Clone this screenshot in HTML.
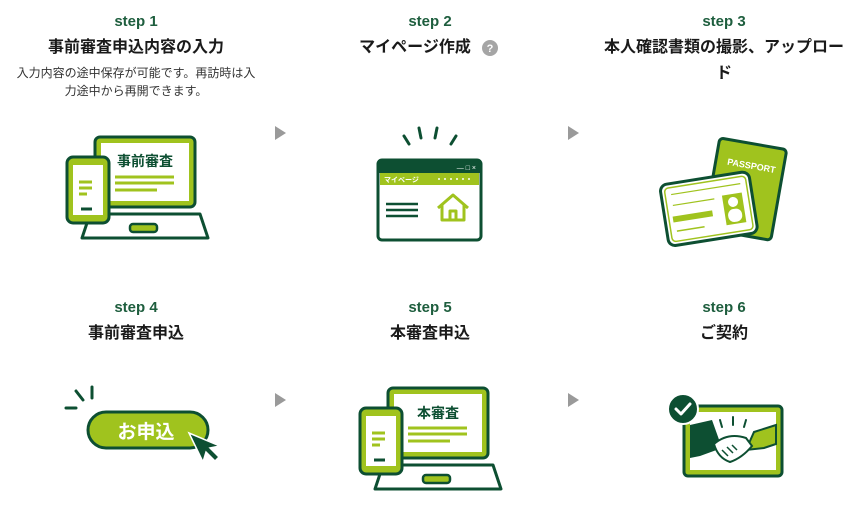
<!DOCTYPE html>
<html><head><meta charset="utf-8"><style>
html,body{margin:0;padding:0;background:#fff;width:858px;height:509px;overflow:hidden}
svg{display:block}
.st{font-family:"Liberation Sans",sans-serif;font-weight:bold;font-size:15px;fill:#1e5e3e}
.tt{font-family:"Liberation Sans","Noto Sans CJK JP",sans-serif;font-weight:bold;font-size:16px;fill:#1a1a1a}
.ds{font-family:"Liberation Sans","Noto Sans CJK JP",sans-serif;font-size:12px;fill:#333}
</style></head><body>
<svg width="858" height="509" viewBox="0 0 858 509" xmlns="http://www.w3.org/2000/svg">
<defs>
<g id="dev">
  <rect x="95" y="137" width="100" height="70" rx="5" fill="#a0c31e" stroke="#0d4f32" stroke-width="3"/>
  <rect x="101" y="143" width="88" height="58" fill="#fff"/>
  <line x1="115" y1="177" x2="174" y2="177" stroke="#a0c31e" stroke-width="3"/>
  <line x1="115" y1="183" x2="174" y2="183" stroke="#a0c31e" stroke-width="3"/>
  <line x1="115" y1="190" x2="157" y2="190" stroke="#a0c31e" stroke-width="3"/>
  <path d="M90 214 L200 214 L208 238 L82 238 Z" fill="#fff" stroke="#0d4f32" stroke-width="3" stroke-linejoin="round"/>
  <rect x="130" y="224" width="27" height="8" rx="3" fill="#a0c31e" stroke="#0d4f32" stroke-width="2.5"/>
  <rect x="67" y="157" width="42" height="66" rx="6" fill="#a0c31e" stroke="#0d4f32" stroke-width="3"/>
  <rect x="73" y="165" width="30" height="50" fill="#fff"/>
  <line x1="79" y1="182" x2="92" y2="182" stroke="#a0c31e" stroke-width="3"/>
  <line x1="79" y1="188" x2="92" y2="188" stroke="#a0c31e" stroke-width="3"/>
  <line x1="79" y1="194" x2="87" y2="194" stroke="#a0c31e" stroke-width="3"/>
  <line x1="81" y1="209" x2="92" y2="209" stroke="#0d4f32" stroke-width="3"/>
</g>
<polygon id="arr" points="0,0 11,7 0,14" fill="#9a9a9a"/>
</defs>

<text class="st" x="136" y="26" text-anchor="middle">step 1</text>
<text class="tt" x="136" y="52" text-anchor="middle">事前審査申込内容の入力</text>
<text class="ds" x="136" y="77" text-anchor="middle">入力内容の途中保存が可能です。再訪時は入</text>
<text class="ds" x="136" y="95" text-anchor="middle">力途中から再開できます。</text>

<text class="st" x="430" y="26" text-anchor="middle">step 2</text>
<text class="tt" x="415" y="52" text-anchor="middle">マイページ作成</text>
<circle cx="490" cy="48" r="8" fill="#a5a5a5"/>
<text x="490" y="52" text-anchor="middle" font-family="Liberation Sans,sans-serif" font-size="11" font-weight="bold" fill="#fff">?</text>

<text class="st" x="724" y="26" text-anchor="middle">step 3</text>
<text class="tt" x="724" y="52" text-anchor="middle">本人確認書類の撮影、アップロー</text>
<text class="tt" x="724" y="78" text-anchor="middle">ド</text>

<text class="st" x="136" y="312" text-anchor="middle">step 4</text>
<text class="tt" x="136" y="338" text-anchor="middle">事前審査申込</text>
<text class="st" x="430" y="312" text-anchor="middle">step 5</text>
<text class="tt" x="430" y="338" text-anchor="middle">本審査申込</text>
<text class="st" x="724" y="312" text-anchor="middle">step 6</text>
<text class="tt" x="724" y="338" text-anchor="middle">ご契約</text>

<use href="#arr" x="275" y="126"/>
<use href="#arr" x="568" y="126"/>
<use href="#arr" x="275" y="393"/>
<use href="#arr" x="568" y="393"/>

<use href="#dev"/>
<text x="145" y="166" text-anchor="middle" font-family="Liberation Sans,Noto Sans CJK JP,sans-serif" font-weight="bold" font-size="14" fill="#0d4f32">事前審査</text>

<use href="#dev" transform="translate(293,251)"/>
<text x="438" y="418" text-anchor="middle" font-family="Liberation Sans,Noto Sans CJK JP,sans-serif" font-weight="bold" font-size="14" fill="#0d4f32">本審査</text>

<g stroke="#0d4f32" stroke-width="3" stroke-linecap="round">
<line x1="404" y1="136" x2="409" y2="144"/>
<line x1="419" y1="128" x2="421" y2="138"/>
<line x1="437" y1="128" x2="435" y2="138"/>
<line x1="456" y1="136" x2="451" y2="144"/>
</g>
<rect x="378" y="160" width="103" height="80" rx="4" fill="#fff" stroke="#0d4f32" stroke-width="3"/>
<rect x="378" y="160" width="103" height="13" fill="#0d4f32"/>
<rect x="380" y="173" width="99" height="12" fill="#a0c31e"/>
<text x="384" y="182" font-family="Noto Sans CJK JP,sans-serif" font-size="7" fill="#fff" font-weight="bold">マイページ</text>
<line x1="438" y1="179" x2="474" y2="179" stroke="#fff" stroke-width="1.5" stroke-dasharray="2 4"/>
<text x="476" y="170" text-anchor="end" font-family="Liberation Sans,sans-serif" font-size="7" fill="#fff">— □ ×</text>
<g stroke="#0d4f32" stroke-width="2.5">
<line x1="386" y1="204" x2="418" y2="204"/><line x1="386" y1="210" x2="418" y2="210"/><line x1="386" y1="216" x2="418" y2="216"/>
</g>
<path d="M438 208 L453 195 L468 208 M442 205 V220 H464 V205 M450 220 V211 H456 V220" fill="none" stroke="#a0c31e" stroke-width="3" stroke-linejoin="round"/>

<g transform="rotate(10 745 185)">
<rect x="712" y="143" width="68" height="92" rx="4" fill="#a0c31e" stroke="#0d4f32" stroke-width="3"/>
<text x="748" y="168" text-anchor="middle" font-family="Liberation Sans,sans-serif" font-weight="bold" font-size="9" fill="#fff">PASSPORT</text>
</g>
<g transform="rotate(-9 708 210)">
<rect x="664" y="178" width="90" height="62" rx="7" fill="#fff" stroke="#0d4f32" stroke-width="3"/>
<rect x="668" y="182" width="82" height="54" rx="4" fill="#fff" stroke="#a0c31e" stroke-width="1.5"/>
<rect x="672" y="211" width="40" height="6" fill="#a0c31e"/>
<rect x="724" y="198" width="20" height="30" fill="#a0c31e"/>
<circle cx="734" cy="206" r="5" fill="#fff"/>
<rect x="727" y="213" width="14" height="13" rx="6" fill="#fff"/>
<line x1="674" y1="226" x2="702" y2="226" stroke="#a0c31e" stroke-width="1.5"/>
<line x1="674" y1="189" x2="744" y2="189" stroke="#a0c31e" stroke-width="1.2"/>
<line x1="674" y1="200" x2="716" y2="200" stroke="#a0c31e" stroke-width="1.2"/>
</g>

<g stroke="#0d4f32" stroke-width="3" stroke-linecap="round">
<line x1="76" y1="391" x2="83" y2="400"/>
<line x1="92" y1="387" x2="92" y2="398"/>
<line x1="66" y1="408" x2="76" y2="408"/>
</g>
<rect x="88" y="412" width="120" height="36" rx="18" fill="#a0c31e" stroke="#0d4f32" stroke-width="3"/>
<text x="146" y="438" text-anchor="middle" font-family="Liberation Sans,Noto Sans CJK JP,sans-serif" font-weight="bold" font-size="19" fill="#fff">お申込</text>
<path d="M189 433 L203 462 L206 452 L215 461 L219 457 L210 448 L220 446 Z" fill="#0d4f32" stroke="#fff" stroke-width="1.5"/>

<rect x="684" y="406" width="98" height="70" rx="4" fill="#a0c31e" stroke="#0d4f32" stroke-width="3"/>
<rect x="690" y="412" width="86" height="58" fill="#fff"/>
<g stroke="#0d4f32" stroke-width="2" stroke-linecap="round">
<line x1="720" y1="420" x2="722" y2="427"/><line x1="733" y1="417" x2="733" y2="425"/><line x1="746" y1="420" x2="744" y2="427"/>
</g>
<path d="M690 425 L712 420 L722 448 L700 456 L690 458 Z" fill="#0d4f32"/>
<path d="M776 425 L754 432 L746 450 L764 448 L776 444 Z" fill="#a0c31e" stroke="#0d4f32" stroke-width="2"/>
<path d="M714 444 Q728 432 746 438 L752 446 Q742 458 730 462 Q718 458 714 444 Z" fill="#fff" stroke="#0d4f32" stroke-width="2"/>
<path d="M722 450 l6 6 M727 447 l6 6 M732 445 l5 5" stroke="#0d4f32" stroke-width="1.5"/>
<circle cx="683" cy="409" r="15" fill="#0d4f32" stroke="#fff" stroke-width="2"/>
<path d="M676 409 L681 414 L690 404" fill="none" stroke="#fff" stroke-width="3" stroke-linecap="round" stroke-linejoin="round"/>
</svg>
</body></html>
